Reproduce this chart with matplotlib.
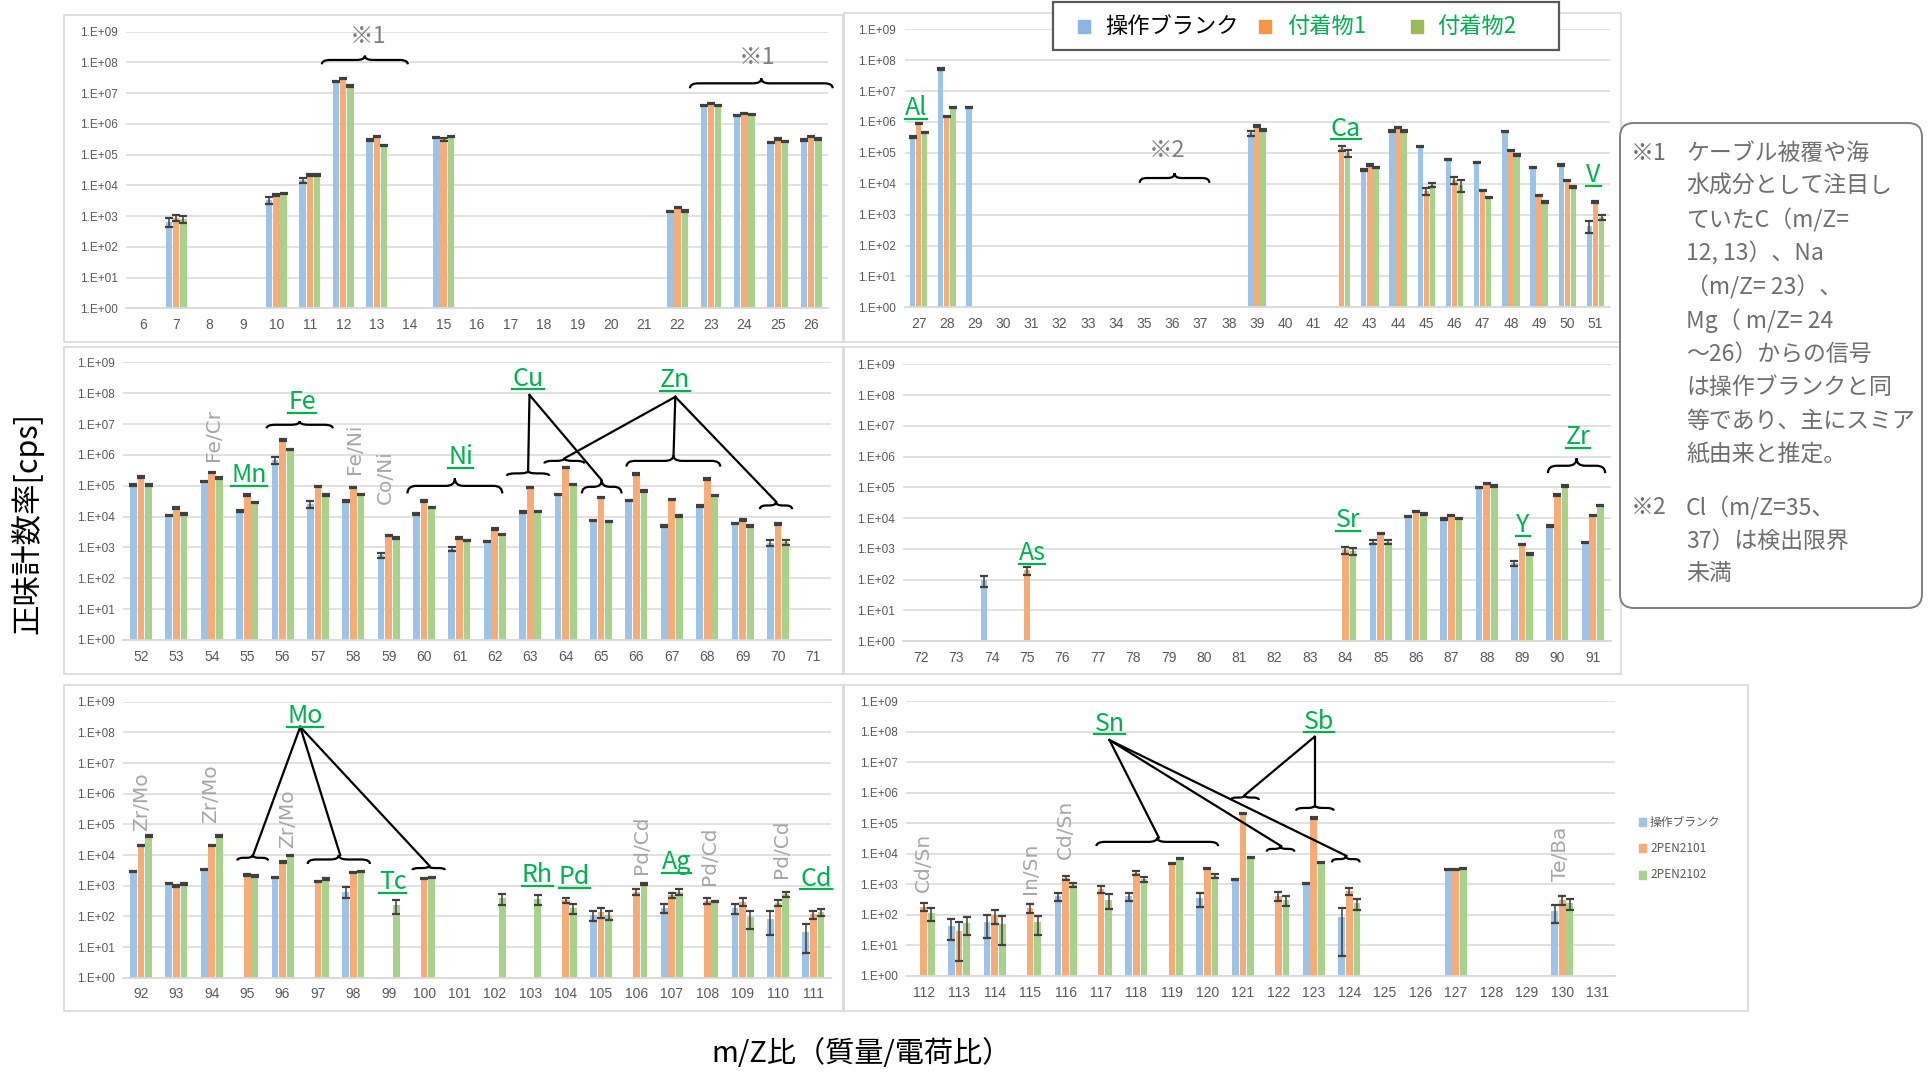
import numpy as np
import matplotlib
matplotlib.use('Agg')
import matplotlib.pyplot as plt
from matplotlib.patches import Rectangle, FancyBboxPatch, PathPatch
from matplotlib.path import Path
from matplotlib.ticker import NullLocator
import matplotlib.transforms as mtransforms

plt.rcParams['font.family'] = ['Noto Sans CJK JP', 'DejaVu Sans']

W, H = 1929, 1072
fig = plt.figure(figsize=(W / 100, H / 100), dpi=100)

N = None
# ---------------- data (counts per second, None = not detected) ----------------
MZ1 = list(range(6, 27))
BLANK1 = [N, 650, N, N, 3300, 15000, 2.4e7, 3.0e5, N, 3.7e5, N, N, N, N, N, N, 1400, 3.9e6, 1.9e6, 2.5e5, 3.0e5]
ADH1_1 = [N, 900, N, N, 4900, 22000, 3.0e7, 3.9e5, N, 3.2e5, N, N, N, N, N, N, 1900, 4.7e6, 2.2e6, 3.2e5, 3.9e5]
ADH2_1 = [N, 800, N, N, 5500, 22000, 1.7e7, 2.0e5, N, 3.9e5, N, N, N, N, N, N, 1450, 4.0e6, 2.0e6, 2.7e5, 3.2e5]

MZ2 = list(range(27, 52))
BLANK2 = [3.3e5, 5.2e7, 3.0e6, N, N, N, N, N, N, N, N, N, 4.3e5, N, N, N, 2.8e4, 5.1e5, 1.6e5, 6.2e4, 4.8e4, 4.9e5, 3.4e4, 4.1e4, 430]
ADH1_2 = [9.0e5, 1.5e6, N, N, N, N, N, N, N, N, N, N, 7.4e5, N, N, 1.4e5, 4.0e4, 6.5e5, 5800, 1.3e4, 6000, 1.2e5, 4100, 1.26e4, 2600]
ADH2_2 = [4.6e5, 3.0e6, N, N, N, N, N, N, N, N, N, N, 5.5e5, N, N, 9.6e4, 3.3e4, 5.1e5, 9100, 9100, 3600, 8.5e4, 2600, 7800, 820]

MZ3 = list(range(52, 72))
BLANK3 = [1.05e5, 1.1e4, 1.35e5, 1.5e4, 6.8e5, 2.5e4, 3.2e4, 570, 1.2e4, 890, 1550, 1.4e4, 5.2e4, 7400, 3.3e4, 4900, 2.2e4, 6000, 1400, N]
ADH1_3 = [1.9e5, 1.9e4, 2.7e5, 5.0e4, 3.0e6, 9.3e4, 8.7e4, 2500, 3.2e4, 2000, 4000, 8.7e4, 3.9e5, 4.1e4, 2.4e5, 3.6e4, 1.65e5, 7700, 5700, N]
ADH2_3 = [1.05e5, 1.2e4, 1.8e5, 2.8e4, 1.5e6, 5.0e4, 5.3e4, 2000, 2.0e4, 1650, 2650, 1.45e4, 1.1e5, 7000, 6.7e4, 1.05e4, 4.8e4, 4900, 1500, N]

MZ4 = list(range(72, 92))
BLANK4 = [N, N, 96, N, N, N, N, N, N, N, N, N, N, 1700, 1.1e4, 9400, 1.0e5, 340, 5500, 1600]
ADH1_4 = [N, N, N, 200, N, N, N, N, N, N, N, N, 920, 3200, 1.6e4, 1.2e4, 1.35e5, 1400, 5.6e4, 1.2e4]
ADH2_4 = [N, N, N, N, N, N, N, N, N, N, N, N, 850, 1700, 1.35e4, 9800, 1.1e5, 680, 1.1e5, 2.5e4]

MZ5 = list(range(92, 112))
BLANK5 = [2900, 1200, 3400, N, 1820, N, 640, N, N, N, N, N, N, 110, N, 190, N, 190, 85, 32]
ADH1_5 = [2.1e4, 980, 2.1e4, 2230, 6000, 1350, 2700, N, 1740, N, N, N, 340, 135, 640, 500, 320, 300, 280, 117]
ADH2_5 = [4.2e4, 1130, 4.2e4, 2050, 9500, 1650, 2900, 235, 1870, N, 390, 360, 190, 115, 1130, 640, 300, 97, 520, 140]

MZ6 = list(range(112, 132))
BLANK6 = [N, 43, 60, N, 415, N, 415, N, 350, 1450, N, 1070, 87, N, N, 3100, N, N, 134, N]
ADH1_6 = [185, 30, 100, 172, 1580, 690, 2300, 4900, 3300, 2.1e5, 425, 1.5e5, 600, N, N, 3100, N, N, 310, N]
ADH2_6 = [112, 53, 50, 57, 950, 310, 1500, 7000, 1900, 7400, 310, 5200, 240, N, N, 3300, N, N, 240, N]

# relative error bars (default small)
ERR = {
    (7, 0): 0.3, (7, 1): 0.25, (7, 2): 0.25, (10, 0): 0.25, (11, 0): 0.2, (15, 1): 0.1,
    (39, 0): 0.2, (42, 1): 0.2, (42, 2): 0.25, (45, 1): 0.25, (45, 2): 0.15, (46, 1): 0.25,
    (46, 2): 0.4, (51, 0): 0.4, (51, 2): 0.2,
    (56, 0): 0.25, (57, 0): 0.25, (59, 0): 0.2, (61, 0): 0.15, (70, 0): 0.2, (70, 2): 0.2,
    (74, 0): 0.4, (75, 1): 0.3, (84, 1): 0.25, (84, 2): 0.25, (85, 0): 0.15, (85, 2): 0.15, (89, 0): 0.2,
    (98, 0): 0.4, (99, 2): 0.5, (102, 2): 0.4, (103, 2): 0.35, (104, 1): 0.2, (104, 2): 0.35,
    (105, 0): 0.35, (105, 1): 0.35, (105, 2): 0.35, (106, 1): 0.2, (107, 0): 0.3, (107, 1): 0.2,
    (107, 2): 0.2, (108, 1): 0.2, (109, 0): 0.35, (109, 1): 0.3, (109, 2): 0.6, (110, 0): 0.7,
    (110, 1): 0.25, (110, 2): 0.2, (111, 0): 0.8, (111, 1): 0.3, (111, 2): 0.25,
    (112, 1): 0.3, (112, 2): 0.45, (113, 0): 0.65, (113, 1): 0.9, (113, 2): 0.6, (114, 0): 0.7,
    (114, 1): 0.5, (114, 2): 0.8, (115, 1): 0.35, (115, 2): 0.6, (116, 0): 0.3, (116, 1): 0.15,
    (116, 2): 0.15, (117, 1): 0.25, (117, 2): 0.5, (118, 0): 0.3, (118, 1): 0.15, (118, 2): 0.2,
    (120, 0): 0.5, (120, 2): 0.15, (122, 1): 0.35, (122, 2): 0.35, (124, 0): 0.95, (124, 1): 0.25,
    (124, 2): 0.4, (130, 0): 0.6, (130, 1): 0.3, (130, 2): 0.4,
}
DEFAULT_ERR = 0.05

SERIES_NAMES = ['操作ブランク', '付着物1', '付着物2']
SMALL_LEGEND = ['操作ブランク', '2PEN2101', '2PEN2102']

# ---------------- styling / layout ----------------
BAR_COLORS = ['#9DC3E6', '#F5AC78', '#A9D18E']
LEG_COLORS = ['#8DB4E2', '#F79646', '#9BBB59']
GREEN = '#00B050'
GRAYTXT = '#A6A6A6'
TICKC = '#595959'

PANELS = [
    (MZ1, [BLANK1, ADH1_1, ADH2_1], (126, 828, 31.7, 308.3), (64, 843, 15, 342)),
    (MZ2, [BLANK2, ADH1_2, ADH2_2], (904.5, 1609.6, 29.3, 307.3), (844, 1621, 13, 342)),
    (MZ3, [BLANK3, ADH1_3, ADH2_3], (123.3, 831, 362.3, 640), (64, 843, 347, 674)),
    (MZ4, [BLANK4, ADH1_4, ADH2_4], (903.3, 1610.5, 364.3, 641), (844, 1621, 347, 674)),
    (MZ5, [BLANK5, ADH1_5, ADH2_5], (123.3, 831, 701.7, 977.7), (64, 843, 685, 1011)),
    (MZ6, [BLANK6, ADH1_6, ADH2_6], (905.9, 1615.4, 701, 976), (844, 1748, 685, 1011)),
]

# annotations: positions in (m/Z, log10 decade)
ANN = [
    dict(braces=[(11.36, 13.93, 7.94, 0.28), (22.37, 26.64, 7.16, 0.32)],
         notes=[('※1', 12.74, 8.84), ('※1', 24.37, 8.16)]),
    dict(labels=[('Al', 26.9, 6.52), ('Ca', 42.15, 5.85), ('V', 50.93, 4.34)],
         braces=[(34.84, 37.31, 4.03, 0.31)], notes=[('※2', 35.81, 5.09)]),
    dict(gray=[('Fe/Cr', 54.04, 6.64), ('Fe/Ni', 58.02, 6.19), ('Co/Ni', 58.9, 5.27)],
         labels=[('Mn', 55.05, 5.40), ('Fe', 56.55, 7.78), ('Ni', 61.04, 5.99),
                 ('Cu', 62.94, 8.53), ('Zn', 67.10, 8.48)],
         braces=[(55.55, 57.42, 6.86, 0.23), (59.53, 62.21, 4.75, 0.49), (62.34, 63.54, 5.32, 0.16),
                 (64.46, 65.58, 4.75, 0.43), (63.40, 64.53, 5.72, 0.17), (65.72, 68.37, 5.62, 0.37),
                 (69.49, 70.40, 4.24, 0.24)],
         lines=[((62.98, 7.94), (62.94, 5.48)), ((62.98, 7.94), (65.02, 5.18)),
                ((67.10, 7.88), (63.97, 5.89)), ((67.10, 7.88), (67.05, 5.99)),
                ((67.10, 7.88), (69.95, 4.48))]),
    dict(labels=[('As', 75.14, 2.91), ('Sr', 84.08, 3.99), ('Y', 89.03, 3.83), ('Zr', 90.58, 6.70)],
         braces=[(89.73, 91.35, 5.46, 0.48)]),
    dict(gray=[('Zr/Mo', 92.03, 5.74), ('Zr/Mo', 93.97, 5.99), ('Zr/Mo', 96.15, 5.20),
               ('Pd/Cd', 106.14, 4.35), ('Pd/Cd', 108.07, 3.98), ('Pd/Cd', 110.09, 4.22)],
         labels=[('Mo', 96.64, 8.60), ('Tc', 99.11, 3.18), ('Rh', 103.2, 3.40), ('Pd', 104.25, 3.35),
                 ('Ag', 107.13, 3.84), ('Cd', 111.07, 3.29)],
         braces=[(94.72, 95.59, 3.82, 0.18), (96.71, 98.47, 3.71, 0.29), (99.67, 100.59, 3.51, 0.13)],
         lines=[((96.5, 8.18), (95.17, 4.0)), ((96.5, 8.18), (97.63, 4.0)), ((96.5, 8.18), (100.16, 3.64))]),
    dict(gray=[('Cd/Sn', 112.0, 3.72), ('In/Sn', 115.0, 3.54), ('Cd/Sn', 115.99, 4.81), ('Te/Ba', 129.94, 4.01)],
         labels=[('Sn', 117.24, 8.32), ('Sb', 123.15, 8.38)],
         braces=[(116.87, 120.30, 4.25, 0.28), (121.67, 122.45, 4.07, 0.18), (123.51, 124.29, 3.72, 0.21),
                 (120.66, 121.45, 5.76, 0.16), (122.50, 123.56, 5.41, 0.18)],
         lines=[((117.24, 7.72), (118.63, 4.53)), ((117.24, 7.72), (122.08, 4.25)),
                ((117.24, 7.72), (123.92, 3.93)), ((123.02, 7.83), (121.05, 5.92)),
                ((123.02, 7.83), (123.02, 5.59))]),
]


def fx(x):
    return x / W


def fy(y):
    return 1 - y / H


def brace(ax, tr, x0, x1, y0, h):
    xm = (x0 + x1) / 2
    q = min(0.25, (x1 - x0) / 5)
    ym = y0 + h / 2
    verts = [(x0, y0), (x0, ym), (x0 + q, ym), (xm - q, ym), (xm, ym), (xm, y0 + h),
             (xm, ym), (xm + q, ym), (x1 - q, ym), (x1, ym), (x1, y0)]
    codes = [Path.MOVETO, Path.CURVE3, Path.CURVE3, Path.LINETO, Path.CURVE3, Path.CURVE3,
             Path.CURVE3, Path.CURVE3, Path.LINETO, Path.CURVE3, Path.CURVE3]
    p = PathPatch(Path(verts, codes), fill=False, edgecolor='black', lw=1.6, transform=tr,
                  clip_on=False, zorder=5)
    ax.add_patch(p)


underline_jobs = []
for pi, (mz, series, (l, r, t, b), frame) in enumerate(PANELS):
    fl, fr, ft, fb = frame
    fig.patches.append(Rectangle((fx(fl), fy(fb)), (fr - fl) / W, (fb - ft) / H,
                                 transform=fig.transFigure, fill=False,
                                 edgecolor='#D9D9D9', lw=1.2, zorder=0))
    ax = fig.add_axes([fx(l), fy(b), (r - l) / W, (b - t) / H])
    ax.set_yscale('log')
    idx = np.arange(len(mz))
    offs = [-0.215, 0.0, 0.215]
    for k, vals in enumerate(series):
        v = np.array([np.nan if a is None else a for a in vals], float)
        m = ~np.isnan(v)
        xp = idx + offs[k]
        ax.bar(xp[m], v[m], width=0.19, color=BAR_COLORS[k], zorder=2)
        rel = np.array([ERR.get((mz[i], k), DEFAULT_ERR) for i in range(len(mz))])
        e = v * rel
        ax.errorbar(xp[m], v[m], yerr=e[m], fmt='none', ecolor='#404040', elinewidth=1.1,
                    capsize=2.6, capthick=1.6, zorder=3)
    ax.set_ylim(1, 1e9)
    ax.set_xlim(-0.5, len(mz) - 0.5)
    ax.set_yticks([10.0 ** i for i in range(10)])
    ax.set_yticklabels(['1.E+%02d' % i for i in range(10)], fontsize=8.5, family='Liberation Sans')
    ax.yaxis.set_minor_locator(NullLocator())
    ax.set_xticks(idx)
    ax.set_xticklabels([str(v) for v in mz], fontsize=10, family='Liberation Sans')
    ax.tick_params(axis='both', length=0, colors=TICKC)
    ax.tick_params(axis='x', pad=7)
    ax.tick_params(axis='y', pad=6)
    ax.grid(axis='y', color='#D9D9D9', lw=1.1)
    ax.grid(axis='x', visible=False)
    ax.axhline(1, color='#D9D9D9', lw=1.3, clip_on=False)
    ax.set_axisbelow(True)
    for s in ax.spines.values():
        s.set_visible(False)
    ax.patch.set_alpha(0)

    mz0 = mz[0]
    tr = mtransforms.blended_transform_factory(ax.transData, ax.transAxes)
    ann = ANN[pi]
    for (x0, x1, y0, h) in ann.get('braces', []):
        brace(ax, tr, x0 - mz0, x1 - mz0, y0 / 9, h / 9)
    for (p0, p1) in ann.get('lines', []):
        ax.plot([p0[0] - mz0, p1[0] - mz0], [p0[1] / 9, p1[1] / 9], color='black', lw=1.6,
                transform=tr, clip_on=False, zorder=5)
    for (s, x, y) in ann.get('notes', []):
        ax.text(x - mz0, y / 9, s, transform=tr, ha='center', va='center', fontsize=17,
                color='#808080', zorder=6)
    for (s, x, y) in ann.get('gray', []):
        ax.text(x - mz0, y / 9, s, transform=tr, ha='center', va='center', fontsize=14.5,
                color=GRAYTXT, rotation=90, family='DejaVu Sans', zorder=6)
    for (s, x, y) in ann.get('labels', []):
        txt = ax.text(x - mz0, (y - 0.29) / 9, s, transform=tr, ha='center', va='baseline',
                      fontsize=18, color=GREEN, zorder=6)
        underline_jobs.append((ax, tr, txt, (y - 0.41) / 9))

    if pi == 5:
        for k, lab in enumerate(SMALL_LEGEND):
            yc = [822, 848, 875][k]
            fig.patches.append(Rectangle((fx(1638.5), fy(yc + 4)), 7.5 / W, 8 / H,
                                         transform=fig.transFigure, color=BAR_COLORS[k], zorder=3))
            fig.text(fx(1650), fy(yc), lab, fontsize=8.5, color=TICKC, va='center', ha='left')

fig.canvas.draw()
renderer = fig.canvas.get_renderer()
for ax, tr, txt, yu in underline_jobs:
    bb = txt.get_window_extent(renderer)
    inv = tr.inverted()
    xa = inv.transform((bb.x0, 0))[0]
    xb = inv.transform((bb.x1, 0))[0]
    ax.plot([xa, xb], [yu, yu], color=GREEN, lw=1.6, transform=tr, clip_on=False, zorder=6)

# top legend
fig.patches.append(Rectangle((fx(1053), fy(50)), (1559 - 1053) / W, 48 / H, transform=fig.transFigure,
                             facecolor='white', edgecolor='#595959', lw=1.6, zorder=4))
leg_sq = [1084, 1265, 1417]
leg_tx = [1105, 1287, 1437]
leg_tc = ['black', GREEN, GREEN]
for k in range(3):
    fig.patches.append(Rectangle((fx(leg_sq[k] - 6), fy(33)), 12 / W, 13 / H, transform=fig.transFigure,
                                 color=LEG_COLORS[k], zorder=5))
    fig.text(fx(leg_tx[k]), fy(26.5), SERIES_NAMES[k], fontsize=16, color=leg_tc[k],
             va='center', ha='left', zorder=6)

# notes box
box = FancyBboxPatch((1620, H - 608), 302, 485, boxstyle='round,pad=0,rounding_size=14',
                     transform=mtransforms.IdentityTransform(), facecolor='white',
                     edgecolor='#7F7F7F', lw=1.4, zorder=4)
fig.patches.append(box)
NOTE1 = ['ケーブル被覆や海', '水成分として注目し', 'ていたC（m/Z=', '12, 13）、Na', '（m/Z= 23）、',
         'Mg（ m/Z= 24', '～26）からの信号', 'は操作ブランクと同', '等であり、主にスミア', '紙由来と推定。']
NOTE2 = ['Cl（m/Z=35、', '37）は検出限界', '未満']
NOTEC = '#6E6E6E'
fig.text(fx(1631), fy(153), '※1', fontsize=16.5, color=NOTEC, va='center', ha='left', zorder=6)
for i, s in enumerate(NOTE1):
    fig.text(fx(1686), fy(153 + 33.5 * i), s, fontsize=16.5, color=NOTEC, va='center', ha='left', zorder=6)
fig.text(fx(1631), fy(508), '※2', fontsize=16.5, color=NOTEC, va='center', ha='left', zorder=6)
for i, s in enumerate(NOTE2):
    fig.text(fx(1686), fy(508 + 33 * i), s, fontsize=16.5, color=NOTEC, va='center', ha='left', zorder=6)

# axis titles
fig.text(fx(27), fy(523), '正味計数率[cps]', rotation=90, ha='center', va='center', fontsize=22)
fig.text(fx(861), fy(1054), 'm/Z比（質量/電荷比）', ha='center', va='center', fontsize=21)

fig.savefig('out.png', dpi=100)
